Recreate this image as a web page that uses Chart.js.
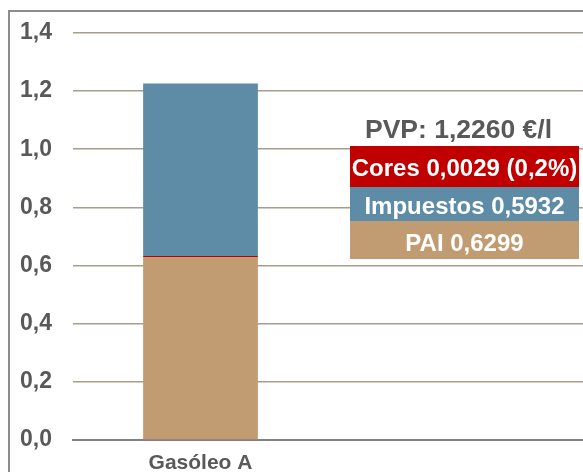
<!DOCTYPE html>
<html>
<head>
<meta charset="utf-8">
<script src="https://cdn.jsdelivr.net/npm/chart.js@4/dist/chart.umd.min.js"></script>
<style>
  html, body { margin: 0; padding: 0; background: #ffffff; }
  #wrap { position: relative; width: 583px; height: 472px; overflow: hidden; }
  #frame { position: absolute; left: 8px; top: 10px; width: 700px; height: 600px;
           border-left: 2px solid #8c8c8c; border-top: 2px solid #8c8c8c; box-sizing: border-box; }
  #c { position: absolute; left: 0; top: 0; }
</style>
</head>
<body>
<div id="wrap">
  <div id="frame"></div>
  <canvas id="c" width="583" height="472"></canvas>
</div>
<script>
// ---- data ----
const categories = ["Gasóleo A", ""];
const seriesNames = ["PAI", "Cores", "Impuestos"];
const paiValues = [0.6299, null];
const coresValues = [0.0029, null];
const impuestosValues = [0.5932, null];
const totalPVP = 1.2260;
const coresShare = "0,2%";
const yTicks = [0, 0.2, 0.4, 0.6, 0.8, 1.0, 1.2, 1.4];

const colors = { PAI: "#C19C73", Cores: "#C00000", Impuestos: "#5E8CA6" };
const fmt = (v, d) => v.toFixed(d).replace(".", ",");

const boxPlugin = {
  id: "boxPlugin",
  afterDatasetsDraw(chart) {
    const ctx = chart.ctx;
    const x0 = 350, x1 = 579;
    const cx = (x0 + x1) / 2;
    const rows = [
      { name: "Cores", top: 146, bottom: 187, text: "Cores " + fmt(coresValues[0], 4) + " (" + coresShare + ")" },
      { name: "Impuestos", top: 187, bottom: 221, text: "Impuestos " + fmt(impuestosValues[0], 4) },
      { name: "PAI", top: 221, bottom: 259, text: "PAI " + fmt(paiValues[0], 4) }
    ];
    ctx.save();
    ctx.textAlign = "center";
    ctx.textBaseline = "middle";
    ctx.font = "bold 26.5px 'Liberation Sans', Arial, sans-serif";
    ctx.fillStyle = "#595959";
    ctx.fillText("PVP: " + fmt(totalPVP, 4) + " €/l", 458.5, 131);
    const textY = [169.5, 207.5, 244.5];
    rows.forEach((r, i) => {
      ctx.fillStyle = colors[r.name];
      ctx.fillRect(x0, r.top, x1 - x0, r.bottom - r.top);
      ctx.fillStyle = "#ffffff";
      ctx.font = "bold 24px 'Liberation Sans', Arial, sans-serif";
      ctx.fillText(r.text, cx, textY[i]);
    });
    ctx.restore();
  }
};

new Chart(document.getElementById("c"), {
  type: "bar",
  data: {
    labels: categories,
    datasets: [
      { label: seriesNames[0], data: paiValues, backgroundColor: colors.PAI, borderWidth: 0 },
      { label: seriesNames[1], data: coresValues, backgroundColor: colors.Cores, borderWidth: 0 },
      { label: seriesNames[2], data: impuestosValues, backgroundColor: colors.Impuestos, borderWidth: 0 }
    ]
  },
  options: {
    responsive: false,
    animation: false,
    layout: { padding: { top: 33, left: 20, right: -2, bottom: 0 } },
    datasets: { bar: { categoryPercentage: 1, barPercentage: 0.45 } },
    plugins: { legend: { display: false }, tooltip: { enabled: false } },
    scales: {
      x: {
        stacked: true,
        afterFit(scale) { scale.height = 32; },
        grid: { display: false, drawTicks: false },
        border: { display: true, color: "#808080", width: 2 },
        ticks: {
          color: "#595959",
          padding: 11,
          font: { family: "'Liberation Sans', Arial, sans-serif", size: 21, weight: "bold" }
        }
      },
      y: {
        stacked: true,
        min: 0,
        max: 1.4,
        afterBuildTicks(scale) { scale.ticks = yTicks.map(v => ({ value: v })); },
        afterFit(scale) { scale.width = 53; },
        grid: { color: "#a69e8c", lineWidth: 1.6, drawTicks: false },
        border: { display: false },
        ticks: {
          color: "#595959",
          padding: 0,
          crossAlign: "far",
          font: { family: "'Liberation Sans', Arial, sans-serif", size: 23, weight: "bold" },
          callback: (v) => fmt(v, 1)
        }
      }
    }
  },
  plugins: [boxPlugin]
});
</script>
</body>
</html>
